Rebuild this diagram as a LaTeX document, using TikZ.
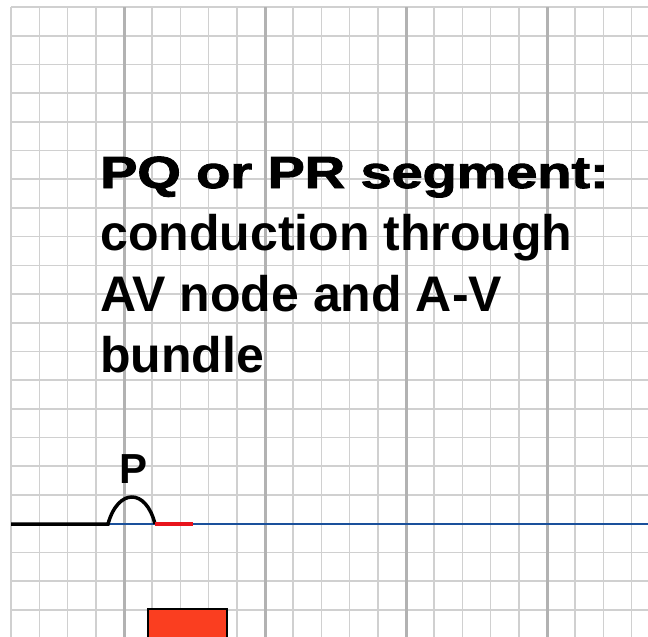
\documentclass[tikz,border=0pt]{standalone}
\usepackage{fontspec}
\newfontfamily\labelfont{Liberation Sans}
\newfontfamily\heavyfont{Liberation Sans}[UprightFont={* Bold}, FakeBold=2]
\definecolor{gridminor}{RGB}{208, 208, 208}
\definecolor{gridmajor}{RGB}{178, 178, 178}
\definecolor{baseblue}{RGB}{26, 80, 155}
\definecolor{segred}{RGB}{232, 20, 28}
\definecolor{boxred}{RGB}{250, 62, 32}
\usetikzlibrary{positioning, calc}

\begin{document}
\begin{tikzpicture}[x=1pt, y=-1pt,
    minorline/.style={gridminor, line width=1.6pt},
    majorline/.style={gridmajor, line width=3pt},
    bodytext/.style={anchor=base west, inner sep=0pt, font=\labelfont\bfseries\fontsize{50}{60}\selectfont}]
          \useasboundingbox (0, 0) rectangle (648, 637);
          \fill[white] (0, 0) rectangle (648, 637);
          \foreach \k in {0, ..., 21}
            \draw[minorline] (11.2, 7+\k*28.7) -- (648, 7+\k*28.7);
          \foreach \k in {0, ..., 22}
            \draw[minorline] (11.2+\k*28.2, 7) -- (11.2+\k*28.2, 637);
          \foreach \k in {4, 9, 14, 19}
            \draw[majorline] (11.2+\k*28.2, 7) -- (11.2+\k*28.2, 637);
          \node[anchor=base west, inner sep=0pt, font=\heavyfont\fontsize{45}{60}\selectfont] (title) at (100, 188) {\scalebox{1.24}[1]{PQ or PR segment:}};
          \node[bodytext] (line2) at (100, 250) {conduction through};
          \node[bodytext] (line3) at (100, 311) {AV node and A-V};
          \node[bodytext] (line4) at (100, 372) {bundle};
          \coordinate (start) at (11, 524);
          \coordinate (pon) at (108, 524);
          \coordinate (poff) at (155, 524);
          \coordinate (qon) at (193, 524);
          \coordinate (rightend) at (648, 524);
          \draw[baseblue, line width=1.6pt] (pon) -- (rightend);
          \draw[black, line width=3.5pt] (start) -- (pon) .. controls (118, 488) and (146, 488) .. (poff);
          \draw[segred, line width=4pt] (poff) -- (qon);
          \node[font=\labelfont\bfseries\fontsize{42}{42}\selectfont, anchor=base, inner sep=0pt] (plabel) at (133.5, 483) {P};
          \filldraw[fill=boxred, draw=black, line width=1.5pt] (148, 609) rectangle (227, 640);
        \end{tikzpicture}
\end{document}
